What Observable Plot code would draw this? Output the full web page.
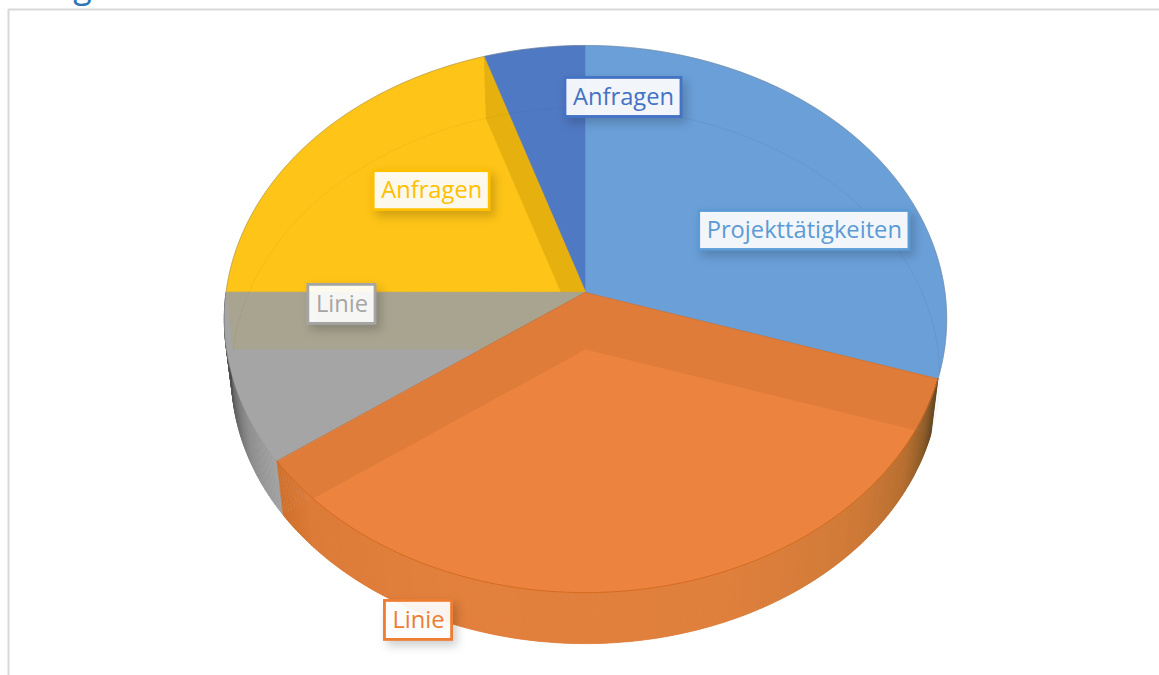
<!DOCTYPE html>
<html lang="de">
<head>
<meta charset="utf-8">
<script src="https://cdn.jsdelivr.net/npm/d3@7"></script>
<script src="https://cdn.jsdelivr.net/npm/@observablehq/plot@0.6"></script>
<style>
html,body{margin:0;padding:0;background:#fff;overflow:hidden}
svg{display:block}
g[aria-label="rect"]{filter:drop-shadow(4px 5px 5px rgba(0,0,0,.2))}
</style>
</head>
<body>
<div id="chart"></div>
<script>
// Data: shares, clockwise from 12 o'clock
const categories = ["Projekttätigkeiten", "Linie", "Linie", "Anfragen", "Anfragen"];
const shares = [30, 35, 10, 20, 5];

// Style
const topColors = ["#6a9fd8", "#e07c3a", "#a5a5a5", "#fec417", "#5079c3"];
const labelColors = ["#5b9bd5", "#ed7d31", "#a5a5a5", "#ffc000", "#4472c4"];
const font = "'Open Sans', sans-serif";

// Layout of the tilted pie
const W = 1159, H = 675;
const cx = 585, cy = 292, rx = 359.5, ry = 271, tilt = 0.097, depth = 57, shrink = 0.98;
// label spots in pie coordinates: [angle in degrees, radius]
const labelSpots = [[69.4, .665], [201, 1.16], [266.3, .676], [311.3, .591], [8.35, .782]];

const rad = d => d * Math.PI / 180;
function topPt(deg, r = 1) {
  const u = r * Math.sin(rad(deg)), v = r * Math.cos(rad(deg)), w = 1 + tilt * v;
  return {x: cx + rx * u / w, y: cy - ry * v / w};
}
function botPt(deg, r = 1) {
  const p = topPt(deg, r);
  return {x: cx + shrink * (p.x - cx), y: cy + depth + shrink * (p.y - cy)};
}
function arc(fn, a, b) {
  const out = [], n = Math.max(2, Math.ceil(Math.abs(b - a)));
  for (let i = 0; i <= n; i++) out.push(fn(a + (b - a) * i / n));
  return out;
}
const cum = d3.cumsum(shares).map(d => d * 3.6);
const starts = [0, ...cum.slice(0, -1)];
const apexT = topPt(0, 0), apexB = botPt(0, 0);
const slice = (fn, apex, i) => [apex, ...arc(fn, starts[i], cum[i])];
const wall = deg => [apexT, topPt(deg), botPt(deg), apexB];

const poly = (pts, fill, stroke = "none", strokeWidth = 1, strokeOpacity = 1) =>
  Plot.line(pts, {x: "x", y: "y", fill, stroke, strokeWidth, strokeOpacity, curve: "linear-closed"});
const path = (pts, stroke, strokeWidth = 1, strokeOpacity = 1) =>
  Plot.line(pts, {x: "x", y: "y", stroke, strokeWidth, strokeOpacity});

function strips(a, b, color) {
  const out = [], step = 0.5;
  for (let t = a; t < b; t += step) {
    const c = color(t + step / 2);
    out.push(poly([topPt(t), topPt(t + step), botPt(t + step), botPt(t)], c, c, 0.7));
  }
  return out;
}
const graySide = d3.scaleLinear().domain([234, 245, 255, 265, 270]).range(["#a2a2a2", "#8c8c8c", "#666", "#474747", "#555"]);
const orangeSide = d3.scaleLinear().domain([108, 114, 122, 135, 160, 200, 226, 234])
  .range(["#5e4320", "#8a5a28", "#b56f30", "#cf7a38", "#e0803d", "#e2803d", "#dc7b39", "#cf702c"]);

// Labels: the white boxes are sized from the measured text
const ctx = document.createElement("canvas").getContext("2d");
const fontSize = 23.7;
ctx.font = `${fontSize}px 'Open Sans'`;
const labels = categories.map((text, i) => {
  const p = topPt(labelSpots[i][0], labelSpots[i][1]);
  return {text, x: p.x, y: p.y, w: ctx.measureText(text).width + 15, color: labelColors[i]};
});
const boxH = 39;

const marks = [
  // cut-off title above the chart frame and the frame itself
  Plot.text(["g"], {x: () => 82, y: () => -13, fill: "#2e75b6", fontSize: 34, fontFamily: font, textAnchor: "middle", lineAnchor: "middle"}),
  Plot.ruleY([9], {x1: 8, x2: W, stroke: "#d9d9d9", strokeWidth: 2}),
  Plot.ruleX([8], {y1: 9, y2: H, stroke: "#d9d9d9", strokeWidth: 2}),

  // gray side, then the back slices
  ...strips(starts[2], cum[2], graySide),
  poly(slice(topPt, apexT, 4), topColors[4], "#4a6fb5", .6),
  poly(slice(topPt, apexT, 0), topColors[0], "#5b8fc9", .6),
  poly(slice(topPt, apexT, 3), topColors[3], "#e0ac10", .6),
  poly(wall(cum[3]), "#e6b10e"),
  poly(slice(topPt, apexT, 2), topColors[2], "#999", .6),
  poly(wall(cum[2]), "#a8a490"),
  // far rim of the lower disc, seen through the top
  path(arc(botPt, cum[2], 360), "#000", 1, 0.04),
  path(arc(botPt, 0, cum[0]), "#000", 1, 0.05),
  // front slice: upper face, lower face, side
  poly(slice(topPt, apexT, 1), topColors[1], "#c96f30", .8),
  poly(slice(botPt, apexB, 1), "#ec843f"),
  ...strips(starts[1], cum[1], orangeSide),
  path(arc(topPt, starts[1], cum[1]), "#d4691f", 1, .9),
  // outer hairline on the far rim
  path(arc(topPt, cum[2], 360), "#888", .7, .5),
  path(arc(topPt, 0, cum[0]), "#888", .7, .5),

  // data labels
  Plot.rect(labels, {
    x1: d => d.x - d.w / 2, x2: d => d.x + d.w / 2,
    y1: d => d.y - boxH / 2, y2: d => d.y + boxH / 2,
    fill: "#fff", fillOpacity: 0.92, stroke: d => d.color, strokeWidth: 2.8
  }),
  Plot.text(labels, {x: "x", y: "y", text: "text", fill: d => d.color, fontSize, fontFamily: font})
];

const plot = Plot.plot({
  width: W, height: H, margin: 0,
  x: {domain: [0, W], range: [0, W], axis: null},
  y: {domain: [0, H], range: [0, H], axis: null},
  color: {type: "identity"},
  marks
});
document.getElementById("chart").append(plot);
</script>
</body>
</html>
